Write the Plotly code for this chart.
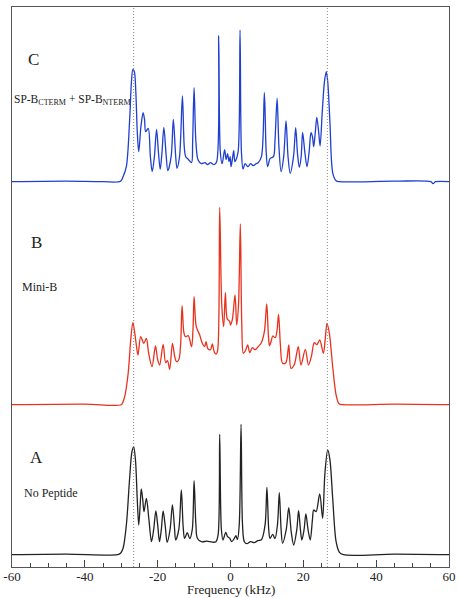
import plotly.graph_objects as go

# ---- data (frequency in kHz, intensity above baseline) ----
C_freq = [-60, -45, -35, -30.2, -29.5, -28.6, -27.7, -27.2, -26.8, -26.4, -26.0, -25.6, -25.2, -24.6, -24.0,
          -23.6, -23.3, -22.6, -22.0, -21.5, -20.9, -20.3, -19.8, -19.3, -18.8, -18.3, -17.7, -17.2, -16.3,
          -15.7, -15.1, -14.7, -14.0, -13.2, -12.7, -12.3, -11.5, -10.7, -10.4, -10.0, -9.5, -8.9, -8.0, -7.0,
          -6.3, -5.5, -4.5, -3.8, -3.24, -2.8, -2.3, -1.6, -1.2, -0.8, -0.4, -0.1, 0.14, 0.5, 0.88, 1.2, 1.5,
          2.1, 2.62, 3.0, 3.44, 4.0, 4.8, 5.5, 6.3, 7.0, 7.6, 8.5, 9.3, 9.8, 10.2, 10.9, 11.8, 12.2, 12.8,
          13.3, 13.9, 14.6, 15.25, 15.8, 16.4, 17.3, 17.9, 18.4, 18.9, 19.4, 19.8, 20.4, 21.0, 21.6, 22.1,
          22.5, 22.85, 23.3, 23.7, 24.2, 24.6, 25.2, 25.8, 26.3, 26.7, 27.3, 28.1, 29.0, 30, 45, 55.0, 55.6,
          56.3, 60]
C_int = [0, 0.5, 0, 0.5, 5, 15, 61.7, 100, 112.4, 110, 90, 50, 30, 55, 69,
         62, 50, 53.4, 25, 10, 25, 52.4, 30, 12.4, 30, 54.4, 28, 11, 25,
         62.4, 28, 13.4, 25, 85.7, 35, 25, 22, 19, 40, 94, 40, 21.7, 18, 19,
         17, 19, 17, 20, 146, 30, 18, 32, 22, 28, 20, 25, 15, 22, 31, 20, 21.7,
         30, 151.7, 30, 12.7, 18, 15, 18, 16, 18, 19, 25, 89, 30, 15, 23.4, 25, 40, 83.4,
         35, 10, 25, 60.7, 25, 8.4, 25, 54, 28, 14.4, 25, 49.4, 30, 15, 30, 49,
         45, 35, 50, 64.4, 50, 35.7, 70, 100, 110, 100, 60, 8.4, 1, 0, 0.5, 0, -2,
         0, 0]

B_freq = [-60, -40, -30, -29.5, -29.05, -28.1, -27.4, -26.8, -26.3, -25.8, -25.4, -24.65, -23.8, -23.1,
          -22.5, -21.55, -20.6, -20.0, -19.45, -18.5, -17.8, -17.3, -16.7, -15.95, -15.3, -14.85, -14.2,
          -13.7, -13.3, -12.8, -12.4, -11.6, -10.7, -10.3, -10.0, -9.4, -8.45, -7.8, -7.1, -6.7, -6.2, -5.5,
          -5.0, -4.4, -3.9, -3.5, -2.97, -2.4, -1.87, -1.4, -0.9, -0.2, 0.0, 0.5, 1.24, 1.7, 2.2, 2.7, 3.1,
          3.53, 4.1, 4.7, 5.3, 6.0, 6.8, 7.6, 8.4, 9.3, 9.95, 10.4, 10.7, 11.2, 11.6, 12.3, 12.8, 13.2, 13.7,
          14.3, 15.2, 16.0, 16.6, 17.5, 18.6, 19.35, 20.55, 21.4, 22.2, 23.0, 23.7, 24.5, 25.5, 26.0, 26.5,
          27.15, 28.06, 29.0, 29.8, 31, 45, 60]
B_int = [0, 0.5, 0, 3, 8, 31.4, 64.7, 82.4, 72, 58, 49.7, 68, 61.4, 66.4,
         52, 38, 58.7, 45, 39.7, 60.4, 42, 44, 35.4, 61.4, 48, 43, 45,
         60, 99, 72, 68, 69, 58, 75, 108, 78, 69.7, 62, 58, 63, 56, 55,
         60.7, 52, 50.7, 55, 197.4, 100, 78, 112, 86, 83, 79.7, 85, 109.7, 79.7, 100, 180.7, 80,
         51.4, 54, 59.7, 52, 57, 55, 58, 61.4, 73, 100.7, 70, 59, 64, 68.7, 67, 75, 90.4, 60,
         41.4, 42, 59.7, 36.4, 40, 58, 39.7, 55.4, 39.7, 48, 62, 60, 64.7, 51.4, 65, 81.4,
         71.4, 38, 9.7, 1, 0, 0.5, 0]

A_freq = [-60, -45, -31, -30.2, -29.5, -28.6, -27.7, -27.1, -26.6, -26.1, -25.6, -25.2, -24.8, -24.5,
          -24.1, -23.75, -23.1, -22.4, -21.7, -21.1, -20.5, -20.0, -19.5, -19.0, -18.5, -17.9, -17.4, -16.6,
          -15.95, -15.4, -15.05, -14.2, -13.5, -13.0, -12.6, -11.85, -11.2, -10.5, -10.0, -9.5, -9.1, -8.0,
          -6.5, -5.0, -4.0, -3.4, -2.97, -2.5, -2.05, -1.3, -0.8, -0.2, 0.33, 1.0, 1.5, 1.9, 2.4, 2.9, 3.3,
          3.8, 4.5, 5.5, 6.5, 7.5, 8.5, 9.5, 10.0, 10.5, 10.85, 11.6, 12.2, 12.9, 13.4, 13.9, 14.3, 15.3,
          16.0, 16.7, 17.35, 18.2, 18.7, 19.2, 19.6, 20.2, 20.7, 21.3, 21.9, 22.5, 22.85, 23.5, 24.5, 25.3,
          25.9, 26.7, 27.3, 28.06, 29.0, 29.9, 31, 45, 60]
A_int = [0, 0.5, 0, 1.5, 6.4, 29.7, 76.4, 102, 108, 95, 55, 29.7, 50, 65.7,
         55, 43, 56.4, 35, 13, 25, 43.7, 30, 13, 25, 43.7, 28, 12.4, 25,
         49.7, 28, 14.7, 25, 64.7, 28, 16.4, 22, 16, 25, 74, 30, 16.4, 13,
         13.5, 12.5, 13, 20, 120.4, 25, 14.7, 22.4, 18, 16.4, 13, 16, 19, 15, 30, 130.4, 30,
         13, 11, 13, 12, 14, 15, 30, 67.4, 25, 16.4, 20.4, 16, 30, 62, 25, 11.4, 25,
         47, 22, 9.7, 25, 44, 25, 14.7, 25, 40.7, 25, 14.7, 35, 44.7, 43, 60.7, 36.4,
         80, 104.7, 95, 56.4, 13, 2.4, 0, 0.5, 0]

labels = ["C", "B", "A"]
names = ["SP-B<sub>CTERM</sub> + SP-B<sub>NTERM</sub>", "Mini-B", "No Peptide"]
marker_freqs = [-26.6, 26.6]
tick_vals = [-60, -40, -20, 0, 20, 40, 60]
tick_text = ["-60", "-40", "-20", "0", "20", "40", "60"]
x_title = "Frequency (kHz)"

# ---- styling / layout ----
offsets = [385.3, 162.3, 12.3]
colors = ["#1f3fd0", "#e8321e", "#222222"]
SERIF = "Liberation Serif, Times New Roman, serif"
PLOT_L, PLOT_W = 12, 437

fig = go.Figure()
for fx, iy, off, col in [(C_freq, C_int, offsets[0], colors[0]),
                         (B_freq, B_int, offsets[1], colors[1]),
                         (A_freq, A_int, offsets[2], colors[2])]:
    fig.add_trace(go.Scatter(x=fx, y=[v + off for v in iy], mode="lines",
                             line=dict(color=col, width=1.3, shape="spline", smoothing=0.9),
                             showlegend=False, hoverinfo="skip"))

for f in marker_freqs:
    fig.add_shape(type="line", xref="x", yref="paper", x0=f, x1=f, y0=0, y1=1,
                  line=dict(color="#888888", width=1, dash="1px,2px"))

ann = [
    dict(text=labels[0], x=33, y=567 - 59, size=17, anchor="center"),
    dict(text=names[0], x=13, y=567 - 100, size=11.5, anchor="left"),
    dict(text=labels[1], x=36, y=567 - 242, size=17, anchor="center"),
    dict(text=names[1], x=21, y=567 - 287, size=12, anchor="left"),
    dict(text=labels[2], x=36, y=567 - 457, size=17, anchor="center"),
    dict(text=names[2], x=23, y=567 - 493, size=12, anchor="left"),
]
for a in ann:
    fig.add_annotation(text=a["text"], xref="paper", yref="y",
                       x=(a["x"] - PLOT_L) / PLOT_W, y=a["y"], xanchor=a["anchor"], yanchor="middle",
                       showarrow=False, borderpad=0,
                       font=dict(family=SERIF, size=a["size"], color="#222222"))

fig.add_annotation(text=x_title, xref="paper", yref="paper", x=0.5, y=-(598 - 567) / 560,
                   xanchor="center", yanchor="bottom", showarrow=False, borderpad=0,
                   font=dict(family=SERIF, size=13, color="#222222"))

fig.update_layout(
    width=458, height=598,
    margin=dict(l=PLOT_L, r=458 - PLOT_L - PLOT_W, t=7, b=31, autoexpand=False),
    paper_bgcolor="white", plot_bgcolor="white",
    xaxis=dict(range=[-60, 60], tickvals=tick_vals, ticktext=tick_text, ticks="inside", ticklen=7,
               tickwidth=1, tickcolor="#444444", showline=True, linecolor="#555555", linewidth=1,
               mirror=True, showgrid=False, zeroline=False, automargin=False, ticklabelstandoff=-3,
               minor=dict(ticks="inside", dtick=5, ticklen=4, tickcolor="#444444", showgrid=False),
               tickfont=dict(family=SERIF, size=13, color="#222222")),
    yaxis=dict(range=[0, 560], showticklabels=False, ticks="", showline=True, linecolor="#555555",
               linewidth=1, mirror=True, showgrid=False, zeroline=False, automargin=False),
)

fig.write_html("out.html")
